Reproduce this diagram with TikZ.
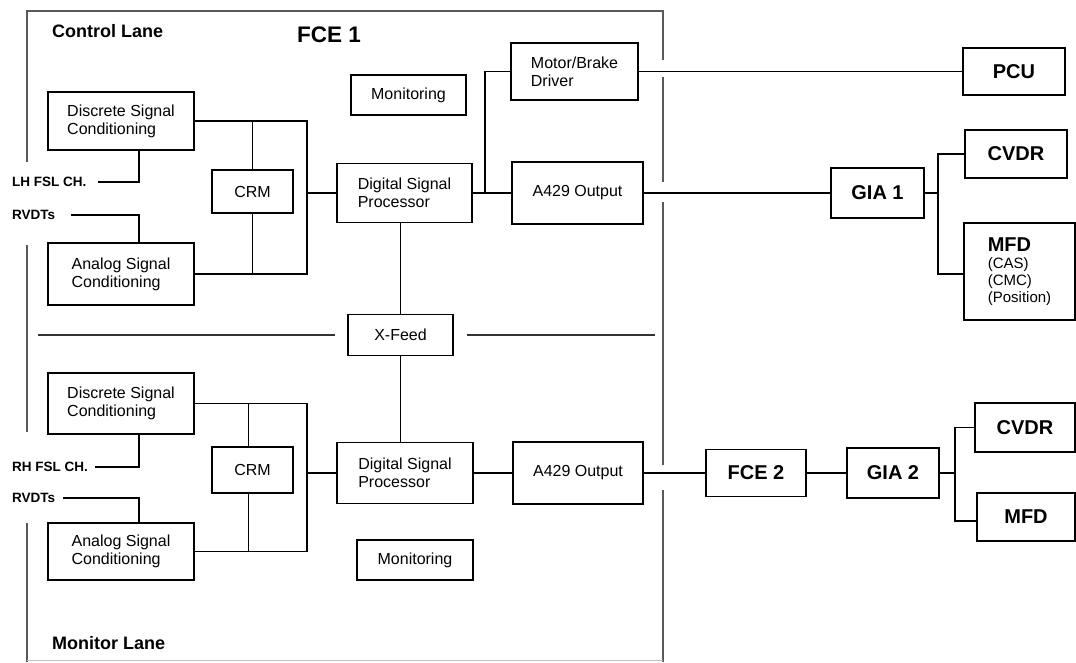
\documentclass[tikz,border=0pt]{standalone}
\usepackage{fontspec}
\setmainfont{Liberation Sans}
\usetikzlibrary{calc}
\newcommand{\bodyf}{\fontsize{16}{18}\selectfont}
\newcommand{\bigf}{\fontsize{20}{22}\selectfont\bfseries}
\begin{document}
\begin{tikzpicture}[x=1pt,y=-1pt,
  box/.style={draw, line width=1.8pt, inner sep=0pt, align=center, font=\bodyf},
  lbox/.style={box, align=left},
  bbox/.style={box, font=\bigf},
  wire/.style={line width=1.6pt},
  frame/.style={line width=1.3pt, black!65},
  lane/.style={anchor=west, inner sep=0pt, font=\fontsize{18}{20}\selectfont\bfseries},
  sig/.style={anchor=west, inner sep=0pt, font=\fontsize{13.5}{15}\selectfont\bfseries}]
\useasboundingbox (0,0) rectangle (1076,662);

% FCE 1 frame
\draw[frame] (27,162) -- (27,11) -- (663,11) -- (663,60);
\draw[frame] (27,245) -- (27,432);
\draw[frame] (27,523) -- (27,662);
\draw[frame] (663,77) -- (663,182);
\draw[frame] (663,202) -- (663,465);
\draw[frame] (663,490) -- (663,662);
\draw[black!25, line width=0.6pt] (27,660.5) -- (663,660.5);

\node[lane] (cl) at (52,31) {Control Lane};
\node[lane] (ml) at (52,643) {Monitor Lane};
\node[anchor=west, inner sep=0pt, font=\fontsize{22.5}{25}\selectfont\bfseries] (fce1) at (297,34.5) {FCE 1};

% ---------- Control lane ----------
\node[lbox, minimum width=146, minimum height=58] (dsc1) at (121,121) {Discrete Signal\\Conditioning};
\node[lbox, minimum width=146, minimum height=62] (asc1) at (121,274) {Analog Signal\\Conditioning};
\node[box, minimum width=81, minimum height=43] (crm1) at (252.5,191.5) {CRM};
\node[lbox, minimum width=135, minimum height=59] (dsp1) at (404.5,193) {Digital Signal\\Processor};
\node[box, minimum width=115, minimum height=40] (mon1) at (408.5,95) {Monitoring};
\node[lbox, minimum width=127, minimum height=57] (mbd) at (574.5,71.5) {Motor/Brake\\Driver};
\node[box, minimum width=131, minimum height=62] (a4291) at (577.5,193) {A429 Output};
\node[box, minimum width=105, minimum height=41] (xfeed) at (400.5,335) {X-Feed};

\node[sig] (lh) at (12,182) {LH FSL CH.};
\node[sig] (rv1) at (12,215) {RVDTs};

\node[bbox, minimum width=102, minimum height=47] (pcu) at (1014,71.5) {PCU};
\node[bbox, minimum width=93, minimum height=50] (gia1) at (877.5,193) {GIA 1};
\node[bbox, minimum width=102, minimum height=48] (cvdr1) at (1016,154) {CVDR};
\node[lbox, minimum width=111, minimum height=97, font=\fontsize{15}{17}\selectfont] (mfd1) at (1019.5,271.5)
  {{\bigf MFD}\\(CAS)\\(CMC)\\(Position)\hspace{10pt}};

% wiring, control lane
\coordinate (b1) at (307,193);
\draw[wire] (dsc1.east) -| (b1) |- (asc1.east);
\draw[wire] (b1) -- (dsp1.west);
\draw[wire] (crm1.north) -- (crm1.north |- dsc1.east);
\draw[wire] (crm1.south) -- (crm1.south |- asc1.east);
\draw[wire] ([xshift=11pt]lh.east) -| ([xshift=18pt]dsc1.south);
\draw[wire] ([xshift=16pt]rv1.east) -| ([xshift=18pt]asc1.north);
\coordinate (j1) at (485,193);
\draw[wire] (dsp1.east) -- (a4291.west);
\draw[wire] (j1) |- (mbd.west);
\draw[wire] (xfeed.north) -- (xfeed.north |- dsp1.south);
\draw[wire] (mbd.east) -- (pcu.west);
\draw[wire] (a4291.east) -- (gia1.west);
\coordinate (g1) at (938,193);
\draw[wire] (gia1.east) -- (g1);
\draw[wire] (cvdr1.west) -| (g1) |- ([yshift=-2.5pt]mfd1.west);

% divider
\coordinate (dl) at (38,335);
\coordinate (dr) at (655,335);
\draw[line width=1.4pt, black!80] (dl) -- ([xshift=-12pt]xfeed.west);
\draw[line width=1.4pt, black!80] ([xshift=13pt]xfeed.east) -- (dr);

% ---------- Monitor lane ----------
\node[lbox, minimum width=146, minimum height=61] (dsc2) at (121,403.5) {Discrete Signal\\Conditioning};
\node[lbox, minimum width=146, minimum height=57] (asc2) at (121,551.5) {Analog Signal\\Conditioning};
\node[box, minimum width=81, minimum height=46] (crm2) at (252.5,470) {CRM};
\node[lbox, minimum width=136, minimum height=61] (dsp2) at (405,473) {Digital Signal\\Processor};
\node[box, minimum width=130, minimum height=62] (a4292) at (578,473) {A429 Output};
\node[box, minimum width=116, minimum height=40] (mon2) at (415,560) {Monitoring};

\node[sig] (rh) at (12,467) {RH FSL CH.};
\node[sig] (rv2) at (12,498) {RVDTs};

\node[bbox, minimum width=100, minimum height=47] (fce2) at (756,473) {FCE 2};
\node[bbox, minimum width=92, minimum height=50] (gia2) at (893,473) {GIA 2};
\node[bbox, minimum width=100, minimum height=49] (cvdr2) at (1025,427.5) {CVDR};
\node[bbox, minimum width=98, minimum height=48] (mfd2) at (1026,517) {MFD};

\coordinate (b2) at (307,473);
\draw[wire] (dsc2.east) -| (b2) |- (asc2.east);
\draw[wire] (b2) -- (dsp2.west);
\draw[wire] ([xshift=-4pt]crm2.north) -- ([xshift=-4pt]crm2.north |- dsc2.east);
\draw[wire] ([xshift=-4pt]crm2.south) -- ([xshift=-4pt]crm2.south |- asc2.east);
\draw[wire] ([xshift=7pt]rh.east) -| ([xshift=18pt]dsc2.south);
\draw[wire] ([xshift=8pt]rv2.east) -| ([xshift=18pt]asc2.north);
\draw[wire] (xfeed.south) -- (xfeed.south |- dsp2.north);
\draw[wire] (dsp2.east) -- (a4292.west);
\draw[wire] (a4292.east) -- (fce2.west);
\draw[wire] (fce2.east) -- (gia2.west);
\coordinate (g2) at (955,473);
\draw[wire] (gia2.east) -- (g2);
\draw[wire] (cvdr2.west) -| (g2) |- ([yshift=-4pt]mfd2.west);
\end{tikzpicture}
\end{document}
